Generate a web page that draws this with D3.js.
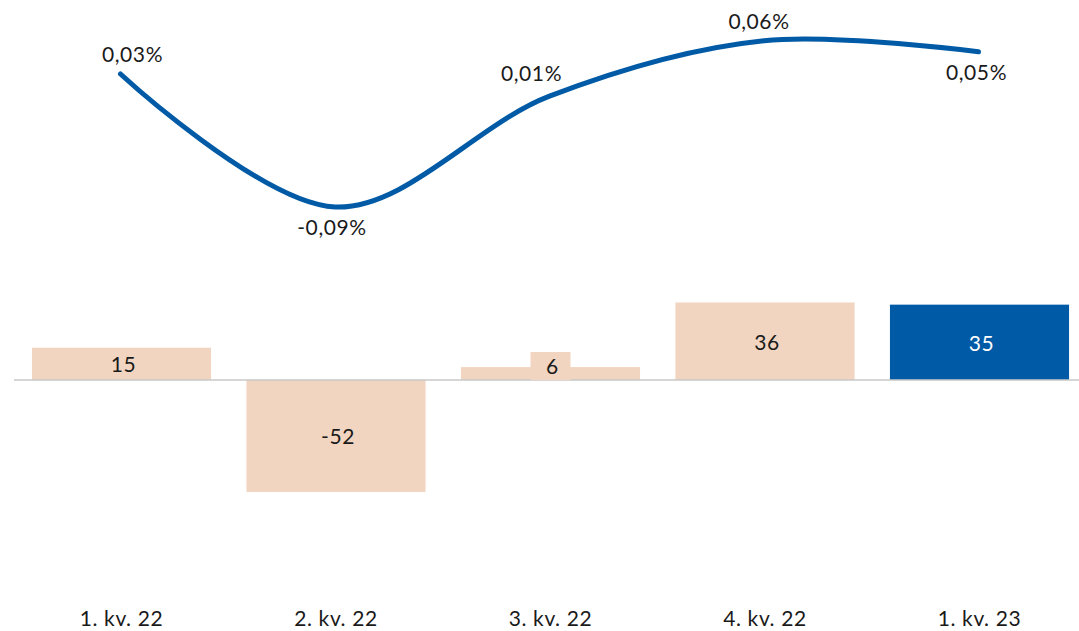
<!DOCTYPE html>
<html><head><meta charset="utf-8">
<script src="https://cdn.jsdelivr.net/npm/d3@7"></script>
<style>body{margin:0;background:#fff}svg{display:block}text{font-family:Lato,"Open Sans",sans-serif;fill:#1a1a1a;letter-spacing:0.6px}</style>
</head><body><svg id="c" width="1079" height="631"></svg>
<script>
const categories = ["1. kv. 22","2. kv. 22","3. kv. 22","4. kv. 22","1. kv. 23"];
const barValues = [15,-52,6,36,35];
const lineValues = [0.03,-0.09,0.01,0.06,0.05];
const lineLabels = ["0,03%","-0,09%","0,01%","0,06%","0,05%"];
const barLabels = ["15","-52","6","36","35"];

const svg = d3.select("#c");
const x = d3.scaleBand().domain(categories).range([14.25,1086.75]).paddingInner(0.165).paddingOuter(0.0825);
const yb = d3.scaleLinear().domain([0,36]).range([380,302.5]);
const yl = d3.scaleLinear().domain([-0.09,0.03]).range([207,74]);
const peach="#f1d5c0", blue="#005aa5";
const fs = 21;

svg.selectAll("rect.bar").data(barValues).join("rect").attr("class","bar")
  .attr("x",(d,i)=>x(categories[i])).attr("width",x.bandwidth())
  .attr("y",d=>Math.min(yb(d),yb(0))).attr("height",d=>Math.abs(yb(d)-yb(0)))
  .attr("fill",(d,i)=>i===4?blue:peach);

svg.append("line").attr("x1",14).attr("x2",1079).attr("y1",yb(0)).attr("y2",yb(0))
  .attr("stroke","#c8c8c8").attr("stroke-width",1.5);

const cx = i => x(categories[i]) + x.bandwidth()/2;
barValues.forEach((d,i)=>{
  if (Math.abs(yb(d)-yb(0)) < 26) {
    svg.append("rect").attr("x",cx(i)-20).attr("width",40).attr("y",yb(0)-28).attr("height",28).attr("fill",peach);
  }
});
svg.selectAll("text.bl").data(barValues).join("text").attr("class","bl")
  .attr("x",(d,i)=>cx(i)+2)
  .attr("y",(d,i)=>{const h=Math.abs(yb(d)-yb(0)); return h<26? yb(0)-13 : (yb(d)+yb(0))/2+1;})
  .attr("dy","0.35em").attr("text-anchor","middle").attr("font-size",fs)
  .style("fill",(d,i)=>i===4?"#fff":"#1a1a1a")
  .text((d,i)=>barLabels[i]);

const line = d3.line().x((d,i)=>cx(i)-1).y(d=>yl(d)).curve(d3.curveCatmullRom.alpha(0.5));
svg.append("path").datum(lineValues).attr("d",line).attr("fill","none")
  .attr("stroke",blue).attr("stroke-width",5).attr("stroke-linecap","round");

const labOff = [[12,-19],[-3,21],[-18,-23],[-5,-19],[-2,21]];
svg.selectAll("text.ll").data(lineValues).join("text").attr("class","ll")
  .attr("x",(d,i)=>cx(i)-1+labOff[i][0]).attr("y",(d,i)=>yl(d)+labOff[i][1])
  .attr("dy","0.35em").attr("text-anchor","middle").attr("font-size",fs)
  .text((d,i)=>lineLabels[i]);

svg.selectAll("text.cat").data(categories).join("text").attr("class","cat")
  .attr("x",d=>x(d)+x.bandwidth()/2).attr("y",619).attr("dy","0.35em")
  .attr("text-anchor","middle").attr("font-size",fs).text(d=>d);
</script></body></html>
